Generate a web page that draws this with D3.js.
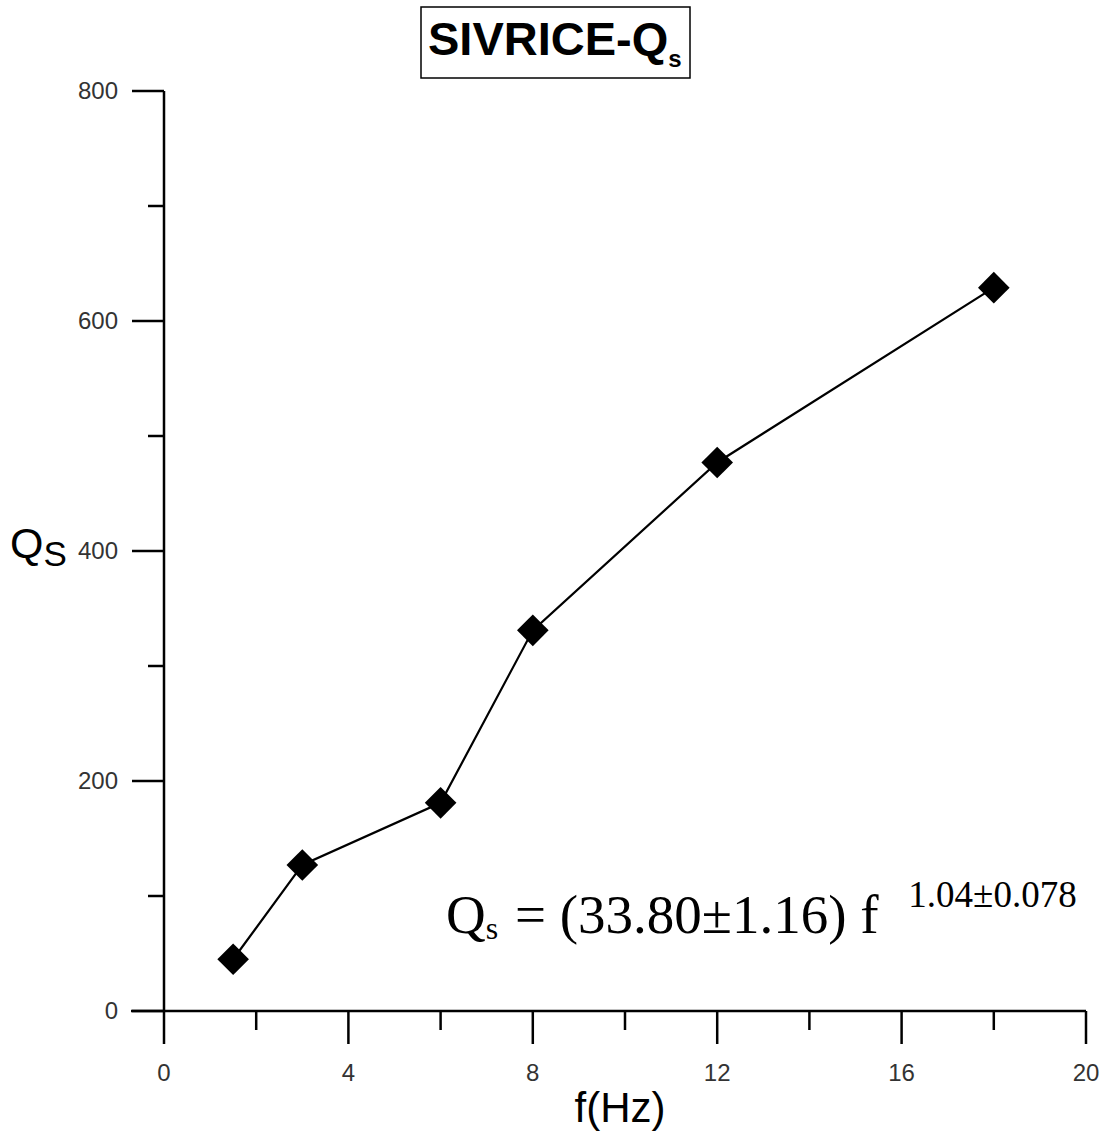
<!DOCTYPE html>
<html>
<head>
    <title>SIVRICE-Qs</title>
    <script src="https://d3js.org/d3.v7.min.js"></script>
    <style>
        body { margin: 0; background: #fff; }
        svg text { font-family: Arial, "Liberation Sans", sans-serif; }
    </style>
</head>
<body>
    <div id="chart"></div>

    <script>
        // data
        const freqs = [1.5, 3, 6, 8, 12, 18];
        const qsValues = [45, 127, 181, 331, 477, 629];
        const xMajorTicks = [0, 4, 8, 12, 16, 20];
        const xMinorTicks = [2, 6, 10, 14, 18];
        const yMajorTicks = [0, 200, 400, 600, 800];
        const yMinorTicks = [100, 300, 500, 700];

        const width = 1106;
        const height = 1137;

        const svg = d3.select("#chart").append("svg")
            .attr("width", width)
            .attr("height", height);

        const x = d3.scaleLinear().domain([0, 20]).range([164, 1086]);
        const y = d3.scaleLinear().domain([0, 800]).range([1011, 91]);

        // x axis
        const xAxis = svg.append("g").attr("transform", "translate(0," + y(0) + ")");
        xAxis.append("line")
            .attr("x1", 131).attr("x2", x(20))
            .attr("stroke", "#000").attr("stroke-width", 2.5);
        xAxis.selectAll(".xmaj").data(xMajorTicks).enter().append("line")
            .attr("x1", d => x(d)).attr("x2", d => x(d))
            .attr("y1", 0).attr("y2", 33)
            .attr("stroke", "#000").attr("stroke-width", 2.5);
        xAxis.selectAll(".xmin").data(xMinorTicks).enter().append("line")
            .attr("x1", d => x(d)).attr("x2", d => x(d))
            .attr("y1", 0).attr("y2", 19)
            .attr("stroke", "#000").attr("stroke-width", 2.5);
        xAxis.selectAll(".xlab").data(xMajorTicks).enter().append("text")
            .attr("x", d => x(d)).attr("y", 70)
            .attr("text-anchor", "middle")
            .attr("font-size", 24).attr("fill", "#333")
            .text(d => d);

        // y axis
        const yAxis = svg.append("g").attr("transform", "translate(" + x(0) + ",0)");
        yAxis.append("line")
            .attr("y1", y(800)).attr("y2", y(0))
            .attr("stroke", "#000").attr("stroke-width", 2.5);
        yAxis.selectAll(".ymaj").data(yMajorTicks).enter().append("line")
            .attr("y1", d => y(d)).attr("y2", d => y(d))
            .attr("x1", -32).attr("x2", 0)
            .attr("stroke", "#000").attr("stroke-width", 2.5);
        yAxis.selectAll(".ymin").data(yMinorTicks).enter().append("line")
            .attr("y1", d => y(d)).attr("y2", d => y(d))
            .attr("x1", -16).attr("x2", 0)
            .attr("stroke", "#000").attr("stroke-width", 2.5);
        yAxis.selectAll(".ylab").data(yMajorTicks).enter().append("text")
            .attr("x", -46).attr("y", d => y(d) + 8)
            .attr("text-anchor", "end")
            .attr("font-size", 24).attr("fill", "#333")
            .text(d => d);

        // axis titles
        const yTitle = svg.append("text")
            .attr("x", 10).attr("y", 558)
            .attr("font-size", 43).attr("fill", "#000");
        yTitle.append("tspan").text("Q");
        yTitle.append("tspan").attr("font-size", 35).attr("dy", 8).text("S");

        svg.append("text")
            .attr("x", 620).attr("y", 1122)
            .attr("text-anchor", "middle")
            .attr("font-size", 42).attr("fill", "#000")
            .text("f(Hz)");

        // title box
        svg.append("rect")
            .attr("x", 421).attr("y", 7)
            .attr("width", 269).attr("height", 71)
            .attr("fill", "none").attr("stroke", "#000").attr("stroke-width", 1.5);
        const title = svg.append("text")
            .attr("x", 428).attr("y", 55)
            .attr("font-size", 47).attr("font-weight", "bold").attr("fill", "#000");
        title.append("tspan").text("SIVRICE-Q");
        title.append("tspan").attr("font-size", 24).attr("dy", 12).text("s");

        // data line and markers
        const points = freqs.map((f, i) => [f, qsValues[i]]);
        svg.append("path")
            .datum(points)
            .attr("fill", "none")
            .attr("stroke", "#000")
            .attr("stroke-width", 2.2)
            .attr("d", d3.line().x(d => x(d[0])).y(d => y(d[1])));

        svg.selectAll(".pt").data(points).enter().append("path")
            .attr("transform", d => "translate(" + x(d[0]) + "," + y(d[1]) + ") rotate(45)")
            .attr("d", d3.symbol().type(d3.symbolSquare).size(500))
            .attr("fill", "#000");

        // fit equation
        const eq = svg.append("text")
            .attr("x", 446).attr("y", 933)
            .style("font-family", "'Liberation Serif', 'Times New Roman', serif")
            .attr("font-size", 55).attr("fill", "#000");
        eq.append("tspan").text("Q");
        eq.append("tspan").attr("font-size", 32).attr("dy", 6).text("s");
        eq.append("tspan").attr("dy", -6).attr("dx", 3).text(" = (33.80\u00b11.16) f ");
        eq.append("tspan").attr("font-size", 37).attr("dy", -26).attr("dx", 16).text("1.04\u00b10.078");
    </script>
</body>
</html>
